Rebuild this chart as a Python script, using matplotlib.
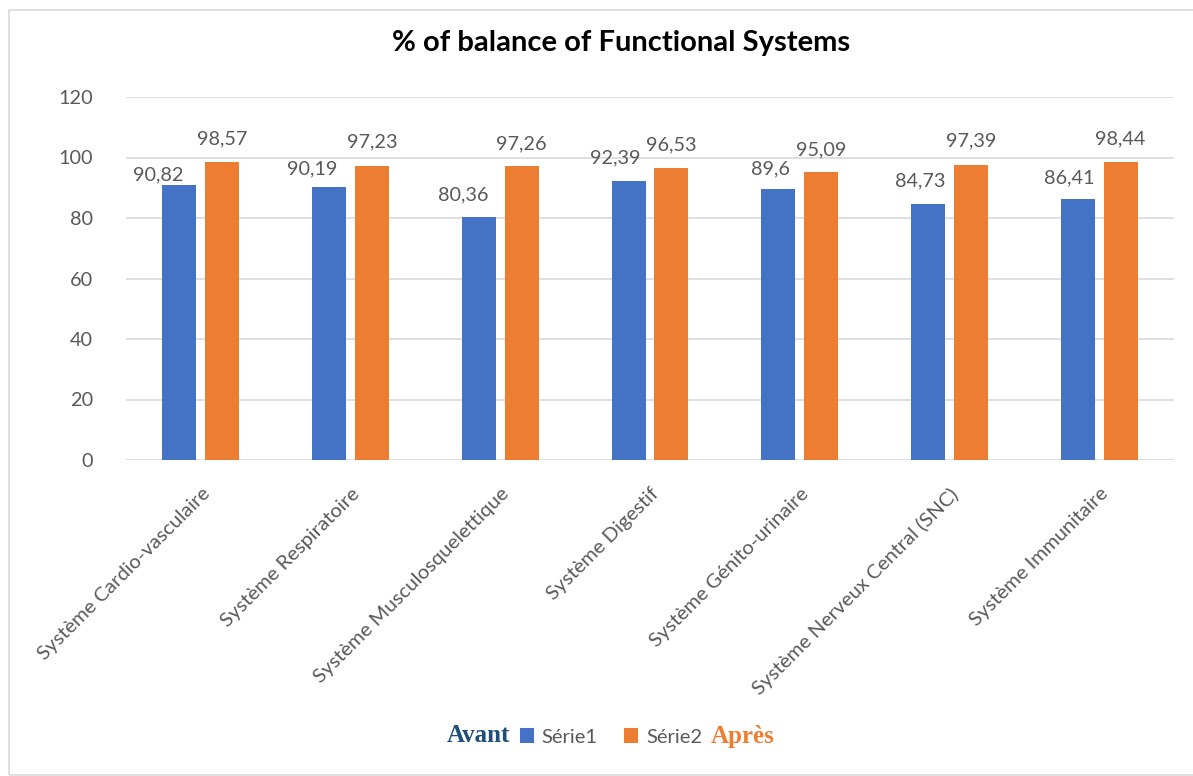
import numpy as np
import matplotlib.pyplot as plt
from matplotlib.patches import Rectangle

# Functional systems, before / after
categories = [
    "Système Cardio-vasculaire",
    "Système Respiratoire",
    "Système Musculosquelettique",
    "Système Digestif",
    "Système Génito-urinaire",
    "Système Nerveux Central (SNC)",
    "Système Immunitaire",
]
serie1 = [90.82, 90.19, 80.36, 92.39, 89.6, 84.73, 86.41]
serie2 = [98.57, 97.23, 97.26, 96.53, 95.09, 97.39, 98.44]
yticks = [0, 20, 40, 60, 80, 100, 120]

blue = "#4472c4"
orange = "#ed7d31"
grey_txt = "#595959"
grid_col = "#d9d9d9"

# label nudges (pixels) so the blue labels sit up-left of their bars
blue_dx = [-21, -17, -16, -13, -8, -8, -8]
blue_dy = [10, 18, 22, 23, 20, 23, 21]
orange_dy = [23, 24, 22, 23, 22, 25, 23]

plt.rcParams["font.family"] = ["Lato", "DejaVu Sans"]

fig = plt.figure(figsize=(11.93, 7.76), dpi=100)
ax = fig.add_axes([126 / 1193, 1 - 460 / 776, 1048 / 1193, 363 / 776])

x = np.arange(len(categories))
w = 0.227
off = 0.143
b1 = ax.bar(x - off, serie1, w, color=blue, label="Série1", zorder=3)
b2 = ax.bar(x + off, serie2, w, color=orange, label="Série2", zorder=3)

def fmt(v):
    return f"{v:g}".replace(".", ",")

for i, v in enumerate(serie1):
    ax.annotate(fmt(v), (x[i] - off, v), xytext=(blue_dx[i], blue_dy[i]),
                textcoords="offset pixels", ha="center", va="center",
                fontsize=14.3, color=grey_txt)
for i, v in enumerate(serie2):
    ax.annotate(fmt(v), (x[i] + off, v), xytext=(0, orange_dy[i]),
                textcoords="offset pixels", ha="center", va="center",
                fontsize=14.3, color=grey_txt)

ax.set_xlim(-0.5, len(categories) - 0.5)
ax.set_ylim(0, 120)
ax.set_yticks(yticks)
ax.set_yticklabels([str(t) for t in yticks])
ax.yaxis.grid(True, color=grid_col, linewidth=1.2, zorder=0)
ax.set_axisbelow(True)
for s in ax.spines.values():
    s.set_visible(False)
ax.tick_params(axis="y", length=0, pad=24, labelsize=14.3, labelcolor=grey_txt)
ax.tick_params(axis="x", length=0, pad=18, labelsize=14.6, labelcolor=grey_txt)
ax.set_xticks(x)
ax.set_xticklabels(categories, rotation=45, ha="right", rotation_mode="anchor")

fig.text(621 / 1193, 1 - 43 / 776, "% of balance of Functional Systems",
         ha="center", va="center", fontsize=21, fontweight="bold", color="black")

# legend with the Avant / Après tags on either side
fig.legend([b1, b2], ["Série1", "Série2"], loc="center",
           bbox_to_anchor=(611 / 1193, 1 - 737 / 776), ncol=2, frameon=False,
           handlelength=0.7, handleheight=0.7, handletextpad=0.4,
           columnspacing=1.3, fontsize=14.5, labelcolor=grey_txt)
fig.text(510 / 1193, 1 - 736 / 776, "Avant", ha="right", va="center",
         fontsize=18, fontweight="bold", color="#1f4e79",
         family="Liberation Serif")
fig.text(711 / 1193, 1 - 736 / 776, "Après", ha="left", va="center",
         fontsize=18, fontweight="bold", color=orange,
         family="Liberation Serif")

# chart area frame
fig.patches.append(Rectangle((9 / 1193, 1 - 775 / 776), 1.2, 765 / 776,
                             transform=fig.transFigure, fill=False,
                             edgecolor=grid_col, linewidth=1.2))

fig.savefig("out.png", dpi=100)
